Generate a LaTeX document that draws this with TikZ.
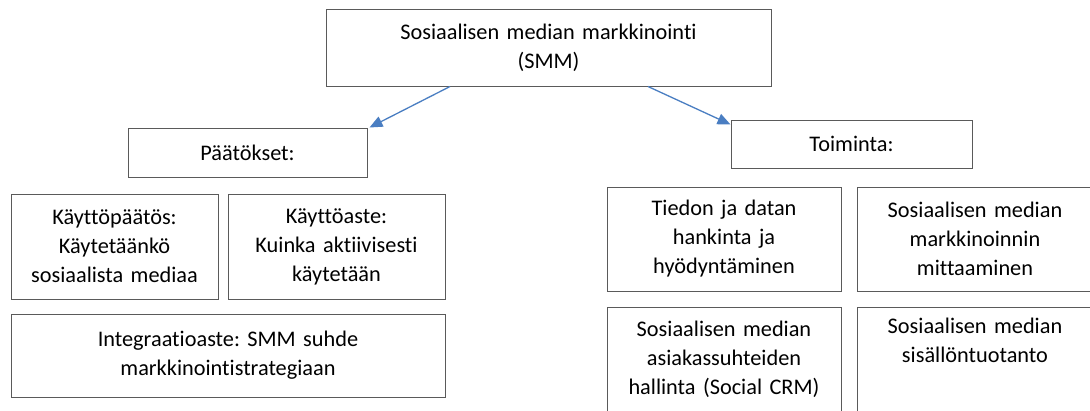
\documentclass[tikz,border=0pt]{standalone}
\usepackage{fontspec}
\setmainfont{Carlito}[Ligatures={NoCommon,NoDiscretionary}]
\usepackage{xcolor}
\usepackage{tikz}
\usetikzlibrary{arrows.meta}
\usetikzlibrary{positioning}
\definecolor{linjasin}{HTML}{4A7EC2}
\definecolor{reuna}{HTML}{5A5A5A}
\frenchspacing

\begin{document}
\begin{tikzpicture}[
  x=1pt, y=-1pt,
  laatikko/.style={draw=reuna, line width=1pt, align=center, inner xsep=0pt, inner ysep=0pt},
  nuoli/.style={draw=linjasin, line width=1.3pt, -{Triangle[length=13pt,width=11pt]}},
  font=\fontsize{22.3}{29}\selectfont]
  \fill[white] (0,0) rectangle (1090,410);
  \clip (0,0) rectangle (1090,410);
  % ylin taso
  \node[laatikko, text width=445pt, minimum height=77pt] (smm) at (548.5,47.5)
    {Sosiaalisen median markkinointi\\(SMM)};
  \node[laatikko, text width=239pt, minimum height=49pt] (paat) at (247.5,152.5) {Päätökset:};
  \node[laatikko, text width=241pt, minimum height=48pt] (toim) at (851.5,144) {Toiminta:};
  % vasen haara
  \node[laatikko, text width=207pt, minimum height=105pt] (kpaat) at (114.5,246.5)
    {Käyttöpäätös:\\Käytetäänkö\\sosiaalista mediaa};
  \node[laatikko, text width=217pt, minimum height=105pt] (kaste) at (336.5,246.5)
    {Käyttöaste:\\Kuinka aktiivisesti\\käytetään};
  \node[laatikko, text width=434pt, minimum height=83pt] (integ) at (228,355.5)
    {Integraatioaste: SMM suhde\\markkinointistrategiaan};
  % oikea haara
  \node[laatikko, text width=234pt, minimum height=104pt] (tieto) at (724,239)
    {Tiedon ja datan\\hankinta ja\\hyödyntäminen};
  \node[laatikko, text width=236pt, minimum height=104pt] (mitt) at (975,239)
    {Sosiaalisen median\\markkinoinnin\\mittaaminen};
  \node[laatikko, text width=234pt, minimum height=104pt] (crm) at (724,359)
    {Sosiaalisen median\\asiakassuhteiden\\hallinta (Social CRM)};
  \node[laatikko, text width=236pt, minimum height=104pt] (sisal) at (975,359)
    {Sosiaalisen median\\sisällöntuotanto\\\strut};
  % nuolet
  \draw[nuoli] ([xshift=-98.5pt]smm.south) -- ([xshift=2pt]paat.north east);
  \draw[nuoli] ([xshift=99.5pt]smm.south) -- ([yshift=-5pt]toim.north west);
\end{tikzpicture}
\end{document}
